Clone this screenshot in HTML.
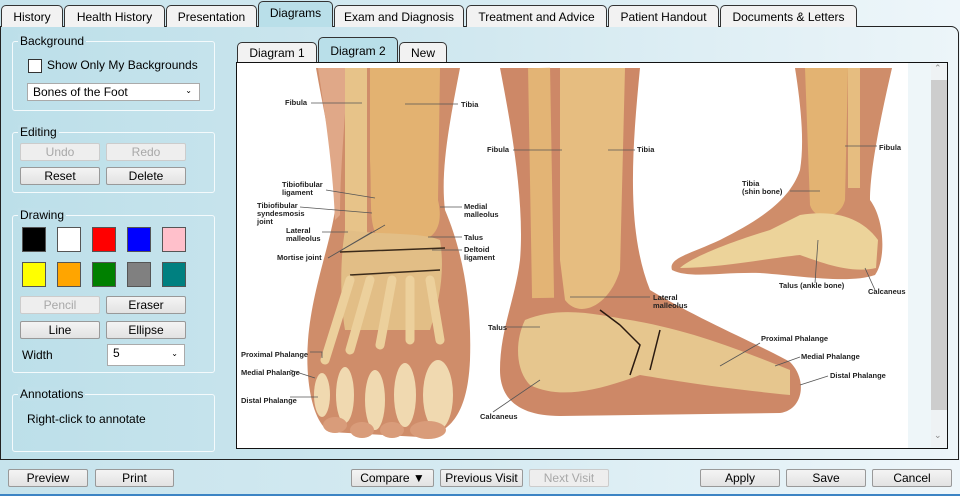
<!DOCTYPE html>
<html><head><meta charset="utf-8"><style>
*{box-sizing:border-box;margin:0;padding:0}
body{width:960px;height:496px;overflow:hidden;font-family:"Liberation Sans",Arial,sans-serif;font-size:12px;color:#000;background:linear-gradient(90deg,#c6e3ec 0%,#d6ebf2 50%,#eef6fa 100%);position:relative}
.a{position:absolute}
.tab{position:absolute;top:5px;height:22px;border:1px solid #333;border-bottom:none;border-radius:5px 5px 0 0;background:#f2f2f2;text-align:center;line-height:22px;font-size:12px}
.tab.sel{top:1px;height:26px;background:#b9dfe9;z-index:3}
.grp{position:absolute;left:12px;width:203px;border:1.5px solid #f4fafc;border-radius:3px}
.gl{position:absolute;left:18px;background:#bfe0ea;padding:0 2px;font-size:12px;line-height:14px}
.btn{position:absolute;height:18px;border:1px solid #999;border-radius:2px;background:linear-gradient(#f4f4f4,#e2e2e2);text-align:center;line-height:16px;font-size:12px}
.dis{color:#a8a8a8;border-color:#ccc;background:#eeeeee}
.sw{position:absolute;width:24px;height:25px;border:1px solid #555}
.lb{font:bold 7.5px "Liberation Sans",Arial,sans-serif;fill:#222}
.ln{stroke:#555;stroke-width:.8;fill:none}
</style></head><body>
<div class="a" style="left:0;top:26px;width:959px;height:434px;border:1px solid #222;border-radius:0 8px 0 0;background:linear-gradient(90deg,#bcdfe9 0%,#cfe7ef 45%,#ecf5f9 100%)"></div>
<div class="tab" style="left:1px;width:62px">History</div>
<div class="tab" style="left:64px;width:101px">Health History</div>
<div class="tab" style="left:166px;width:91px">Presentation</div>
<div class="tab sel" style="left:258px;width:75px">Diagrams</div>
<div class="tab" style="left:334px;width:130px">Exam and Diagnosis</div>
<div class="tab" style="left:466px;width:141px">Treatment and Advice</div>
<div class="tab" style="left:608px;width:111px">Patient Handout</div>
<div class="tab" style="left:720px;width:137px">Documents &amp; Letters</div>

<div class="grp" style="top:41px;height:70px"></div><div class="gl" style="top:34px">Background</div>
<div class="a" style="left:28px;top:59px;width:14px;height:14px;border:1px solid #333;background:#fff"></div>
<div class="a" style="left:47px;top:58px;font-size:12px">Show Only My Backgrounds</div>
<div class="a" style="left:27px;top:83px;width:173px;height:18px;border:1px solid #aaa;background:#fff;padding-left:5px;line-height:16px;font-size:12px">Bones of the Foot<span style="position:absolute;right:7px;top:-1px;font-size:8px">&#8964;</span></div>

<div class="grp" style="top:132px;height:61px"></div><div class="gl" style="top:125px">Editing</div>
<div class="btn dis" style="left:20px;top:143px;width:80px">Undo</div>
<div class="btn dis" style="left:106px;top:143px;width:80px">Redo</div>
<div class="btn" style="left:20px;top:167px;width:80px">Reset</div>
<div class="btn" style="left:106px;top:167px;width:80px">Delete</div>

<div class="grp" style="top:215px;height:158px"></div><div class="gl" style="top:208px">Drawing</div>
<div class="sw" style="left:22px;top:227px;background:#000"></div>
<div class="sw" style="left:57px;top:227px;background:#fff"></div>
<div class="sw" style="left:92px;top:227px;background:#f00"></div>
<div class="sw" style="left:127px;top:227px;background:#00f"></div>
<div class="sw" style="left:162px;top:227px;background:#ffc0cb"></div>
<div class="sw" style="left:22px;top:262px;background:#ff0"></div>
<div class="sw" style="left:57px;top:262px;background:#ffa500"></div>
<div class="sw" style="left:92px;top:262px;background:#008000"></div>
<div class="sw" style="left:127px;top:262px;background:#808080"></div>
<div class="sw" style="left:162px;top:262px;background:#008080"></div>
<div class="btn dis" style="left:20px;top:296px;width:80px">Pencil</div>
<div class="btn" style="left:106px;top:296px;width:80px">Eraser</div>
<div class="btn" style="left:20px;top:321px;width:80px">Line</div>
<div class="btn" style="left:106px;top:321px;width:80px">Ellipse</div>
<div class="a" style="left:22px;top:348px;font-size:12px">Width</div>
<div class="a" style="left:107px;top:344px;width:78px;height:22px;border:1px solid #aaa;background:#fff;padding-left:5px;line-height:16px;font-size:12px">5<span style="position:absolute;right:6px;top:1px;font-size:8px">&#8964;</span></div>

<div class="grp" style="top:394px;height:58px"></div><div class="gl" style="top:387px">Annotations</div>
<div class="a" style="left:27px;top:412px;font-size:12px">Right-click to annotate</div>

<div class="tab" style="left:237px;top:42px;width:80px;height:21px;line-height:21px">Diagram 1</div>
<div class="tab sel" style="left:318px;top:37px;width:80px;height:26px;line-height:26px">Diagram 2</div>
<div class="tab" style="left:399px;top:42px;width:48px;height:21px;line-height:21px">New</div>
<div class="a" style="left:236px;top:62px;width:712px;height:387px;border:1px solid #111;background:#eef6f9;z-index:4"></div>
<div class="a" style="left:931px;top:64px;width:16px;height:383px;background:#eef2f4;z-index:5"></div>
<div class="a" style="left:931px;top:80px;width:16px;height:330px;background:#cdcdcd;z-index:6"></div>
<div class="a" style="left:934px;top:63px;font-size:9px;color:#888;z-index:6">&#8963;</div>
<div class="a" style="left:934px;top:430px;font-size:9px;color:#888;z-index:6">&#8964;</div>

<svg class="a" style="left:237px;top:63px;z-index:5" width="671" height="385" viewBox="237 63 671 385">
<rect x="237" y="63" width="671" height="385" fill="#fff"/>
<path d="M316,68 L460,68 C450,120 440,170 445,210 C462,250 472,300 470,360 C468,405 455,435 420,437 L330,432 C312,422 305,380 308,340 C312,290 330,245 335,210 C338,170 325,120 316,68 Z" fill="#cf8d6a"/>
<path d="M318,68 L348,68 C345,120 340,170 340,215 L335,220 C333,170 326,120 318,68Z" fill="#e0a888"/>
<rect x="345" y="68" width="22" height="170" fill="#e7c389"/>
<path d="M370,68 L440,68 L438,200 C445,230 430,240 420,240 L380,238 C368,230 372,200 370,160Z" fill="#e3b271"/>
<path d="M345,230 C380,235 420,232 440,240 C445,270 440,300 430,330 L345,330 C340,300 340,260 345,230Z" fill="#e2be86"/>
<path d="M340,252 L445,248 M350,275 L440,270" stroke="#3a2a1a" stroke-width="1.5" fill="none"/>
<path d="M350,280 L325,360 M370,280 L350,350 M392,280 L380,345 M410,280 L410,340 M430,280 L440,340" stroke="#ecd09c" stroke-width="9" fill="none" stroke-linecap="round"/>
<g fill="#f0d9b0"><ellipse cx="322" cy="395" rx="8" ry="22"/><ellipse cx="345" cy="395" rx="9" ry="28"/><ellipse cx="375" cy="400" rx="10" ry="30"/><ellipse cx="405" cy="395" rx="11" ry="32"/><ellipse cx="438" cy="395" rx="15" ry="35"/></g>
<g fill="#d99c7a"><ellipse cx="335" cy="425" rx="12" ry="8"/><ellipse cx="362" cy="430" rx="12" ry="8"/><ellipse cx="392" cy="430" rx="12" ry="8"/><ellipse cx="428" cy="430" rx="18" ry="9"/></g>
<path d="M500,68 L640,68 C632,150 626,230 650,290 C700,320 760,345 790,362 C808,380 803,410 780,413 L560,416 C520,416 500,400 500,370 C500,330 515,300 520,260 C525,200 510,120 500,68 Z" fill="#cd8867"/>
<rect x="530" y="68" width="22" height="230" fill="#e3b475" transform="rotate(-1 540 180)"/>
<path d="M560,68 L625,68 L620,270 C610,305 580,320 565,300 L560,260Z" fill="#e6bd80"/>
<path d="M525,320 C560,305 600,315 630,320 C690,330 740,350 790,370 L790,395 C740,390 700,385 640,375 C600,390 560,400 530,385 C515,370 515,340 525,320Z" fill="#e6c68e"/>
<path d="M620,325 L640,345 L630,375 M660,330 L650,370 M600,310 L620,325" stroke="#2a1a10" stroke-width="1.5" fill="none"/>
<path d="M795,68 L892,68 C880,120 870,170 870,200 C885,220 886,260 875,275 C850,284 800,276 760,273 C720,272 690,279 672,270 C668,258 690,254 720,240 C760,220 790,200 800,170 C805,140 800,100 795,68 Z" fill="#cf8d6a"/>
<path d="M805,68 L848,68 L845,200 C840,220 815,222 810,205Z" fill="#e3b372"/>
<rect x="848" y="68" width="12" height="120" fill="#e6bd80"/>
<path d="M800,215 C830,210 860,215 878,240 L876,268 C850,274 820,262 800,255 C770,258 720,268 680,268 C690,258 730,242 770,230Z" fill="#ecd39a"/>
<g class="lb">
<text x="285" y="105">Fibula</text><text x="461" y="107">Tibia</text>
<text x="282" y="187">Tibiofibular</text><text x="282" y="195">ligament</text>
<text x="257" y="208">Tibiofibular</text><text x="257" y="216">syndesmosis</text><text x="257" y="224">joint</text>
<text x="286" y="233">Lateral</text><text x="286" y="241">malleolus</text>
<text x="277" y="260">Mortise joint</text>
<text x="464" y="209">Medial</text><text x="464" y="217">malleolus</text>
<text x="464" y="240">Talus</text><text x="464" y="252">Deltoid</text><text x="464" y="260">ligament</text>
<text x="241" y="357">Proximal Phalange</text><text x="241" y="375">Medial Phalange</text><text x="241" y="403">Distal Phalange</text>
<text x="487" y="152">Fibula</text><text x="637" y="152">Tibia</text>
<text x="653" y="300">Lateral</text><text x="653" y="308">malleolus</text>
<text x="488" y="330">Talus</text><text x="480" y="419">Calcaneus</text>
<text x="761" y="341">Proximal Phalange</text><text x="801" y="359">Medial Phalange</text><text x="830" y="378">Distal Phalange</text>
<text x="742" y="186">Tibia</text><text x="742" y="194">(shin bone)</text>
<text x="879" y="150">Fibula</text>
<text x="779" y="288">Talus (ankle bone)</text><text x="868" y="294">Calcaneus</text>
</g>
<g class="ln">
<path d="M311,103 H362 M458,104 H405 M326,190 L375,198 M300,207 L372,213 M322,232 H348 M328,258 L372,232 M328,258 L385,225 M462,207 H440 M462,237 H428 M462,250 H432"/>
<path d="M310,352 H322 V358 M290,370 L315,378 M290,397 H318"/>
<path d="M513,150 H562 M635,150 H608 M650,297 H570 M507,327 H540 M493,412 L540,380"/>
<path d="M760,343 L720,366 M800,357 L775,366 M828,376 L800,385"/>
<path d="M790,191 H820 M877,146 H845 M815,283 L818,240 M875,290 L865,268"/>
</g>
</svg>

<div class="btn" style="left:8px;top:469px;width:80px">Preview</div>
<div class="btn" style="left:95px;top:469px;width:79px">Print</div>
<div class="btn" style="left:351px;top:469px;width:83px">Compare &#9660;</div>
<div class="btn" style="left:440px;top:469px;width:83px">Previous Visit</div>
<div class="btn dis" style="left:529px;top:469px;width:80px">Next Visit</div>
<div class="btn" style="left:700px;top:469px;width:80px">Apply</div>
<div class="btn" style="left:786px;top:469px;width:80px">Save</div>
<div class="btn" style="left:872px;top:469px;width:80px">Cancel</div>
<div class="a" style="left:0;top:494px;width:960px;height:2px;background:#3c84c4"></div>
</body></html>
